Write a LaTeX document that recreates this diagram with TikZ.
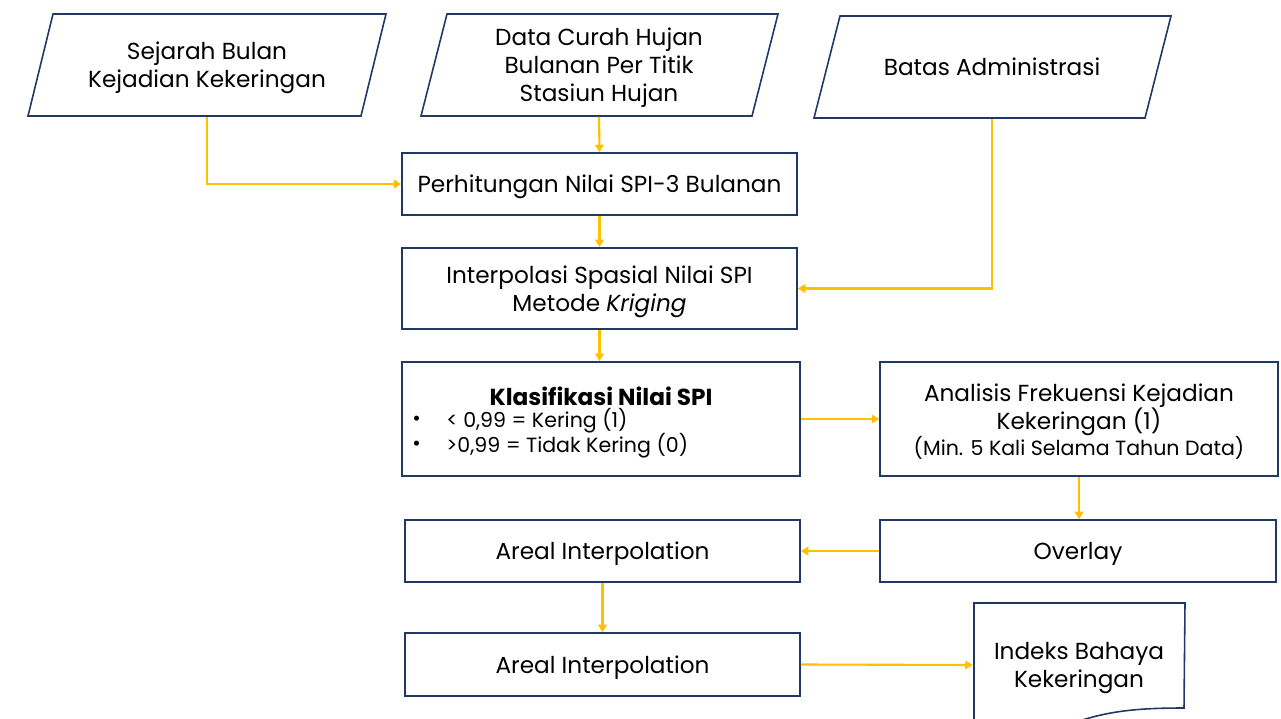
\documentclass[tikz,border=0pt]{standalone}
\usepackage{fontspec}
\setmainfont{Poppins}
\usetikzlibrary{arrows.meta}
\definecolor{navy}{HTML}{203864}
\definecolor{gold}{HTML}{FFC000}
\begin{document}
\begin{tikzpicture}[x=0.02cm,y=-0.02cm,
  txt/.style={font=\fontsize{13.2pt}{15.9pt}\selectfont,align=center,inner sep=0pt},
  small/.style={font=\fontsize{11.7pt}{13pt}\selectfont},
  box/.style={draw=navy,line width=0.9pt,inner sep=0pt},
  % caption of a box, nudged down to sit optically centred
  cap/.style={label={[txt,yshift=-0.06cm]center:{#1}}},
  ghost/.style={inner sep=0pt,txt},
  outline/.style={draw=navy,line width=0.9pt,fill=white},
  flow/.style={draw=gold,line width=1.2pt,-{Triangle[length=0.15cm,width=0.17cm]}}]
\useasboundingbox (0,0) rectangle (1281,719);
\fill[white] (0,0) rectangle (1281,719);

% input parallelograms
\draw[outline] (53,14) -- (386,14) -- (361,116) -- (28,116) -- cycle;
\node[box,draw=none,minimum width=6cm,minimum height=2.04cm,cap={Sejarah Bulan\\Kejadian Kekeringan}] (hist) at (207,65) {};
\draw[outline] (447,14) -- (778,14) -- (752,116) -- (421,116) -- cycle;
\node[box,draw=none,minimum width=6cm,minimum height=2.04cm,cap={Data Curah Hujan\\Bulanan Per Titik\\Stasiun Hujan}] (rain) at (599,65) {};
\draw[outline] (840,16) -- (1171,16) -- (1145,118) -- (814,118) -- cycle;
\node[box,draw=none,minimum width=6cm,minimum height=2.04cm,label={[txt]center:Batas Administrasi}] (admin) at (992,67) {};

% process boxes
\node[box,minimum width=7.9cm,minimum height=1.24cm,cap={Perhitungan Nilai SPI-3 Bulanan}] (spi) at (599.5,184) {};
\node[box,minimum width=7.9cm,minimum height=1.62cm,cap={Interpolasi Spasial Nilai SPI\\Metode \textit{Kriging}}] (krig) at (599.5,288.5) {};
\node[box,minimum width=7.96cm,minimum height=2.28cm] (klas) at (601,419) {};
\node[ghost,font=\fontsize{13.2pt}{15.9pt}\selectfont\bfseries] (klasT) at (601,396.5) {Klasifikasi Nilai SPI};
\node[ghost,small,anchor=west] (dotA) at (412,421) {\textbullet};
\node[ghost,small,anchor=west] (dotB) at (412,446) {\textbullet};
\node[ghost,small,anchor=west] (lineA) at (446,421) {< 0,99 = Kering (1)};
\node[ghost,small,anchor=west] (lineB) at (446,446) {>0,99 = Tidak Kering (0)};
\node[box,minimum width=7.96cm,minimum height=2.28cm] (freq) at (1079,419) {};
\node[ghost] (freqT) at (1079,409.5) {Analisis Frekuensi Kejadian\\Kekeringan (1)};
\node[ghost,small] (freqN) at (1079,447.5) {(Min. 5 Kali Selama Tahun Data)};
\node[box,minimum width=7.92cm,minimum height=1.24cm,cap={Overlay}] (ovl) at (1078,551) {};
\node[box,minimum width=7.9cm,minimum height=1.24cm,cap={Areal Interpolation}] (area1) at (602.5,551) {};
\node[box,minimum width=7.9cm,minimum height=1.26cm,cap={Areal Interpolation}] (area2) at (602.5,664.5) {};

% output document
\begin{scope}
\clip (0,0) rectangle (1281,719);
\draw[outline] (974,603) -- (1185,603) -- (1184,708)
  .. controls (1130,708) and (1100,712) .. (1060,728)
  .. controls (1030,740) and (1000,742) .. (974,740) -- cycle;
\end{scope}
\node[box,draw=none,minimum width=4.22cm,minimum height=2cm,cap={Indeks Bahaya\\Kekeringan}] (out) at (1079,665) {};

% connectors
\draw[flow] (hist.south) |- (spi.west);
\draw[flow] (rain.south) -- (spi.north);
\draw[flow] (spi.south) -- (krig.north);
\draw[flow] (admin.south) |- (krig.east);
\draw[flow] (krig.south) -- (krig.south |- klas.north);
\draw[flow] (klas.east) -- (freq.west);
\draw[flow] (freq.south) -- (freq.south |- ovl.north);
\draw[flow] (ovl.west) -- (area1.east);
\draw[flow] (area1.south) -- (area2.north);
\draw[flow] (area2.east) -- (out.west);
\end{tikzpicture}
\end{document}
